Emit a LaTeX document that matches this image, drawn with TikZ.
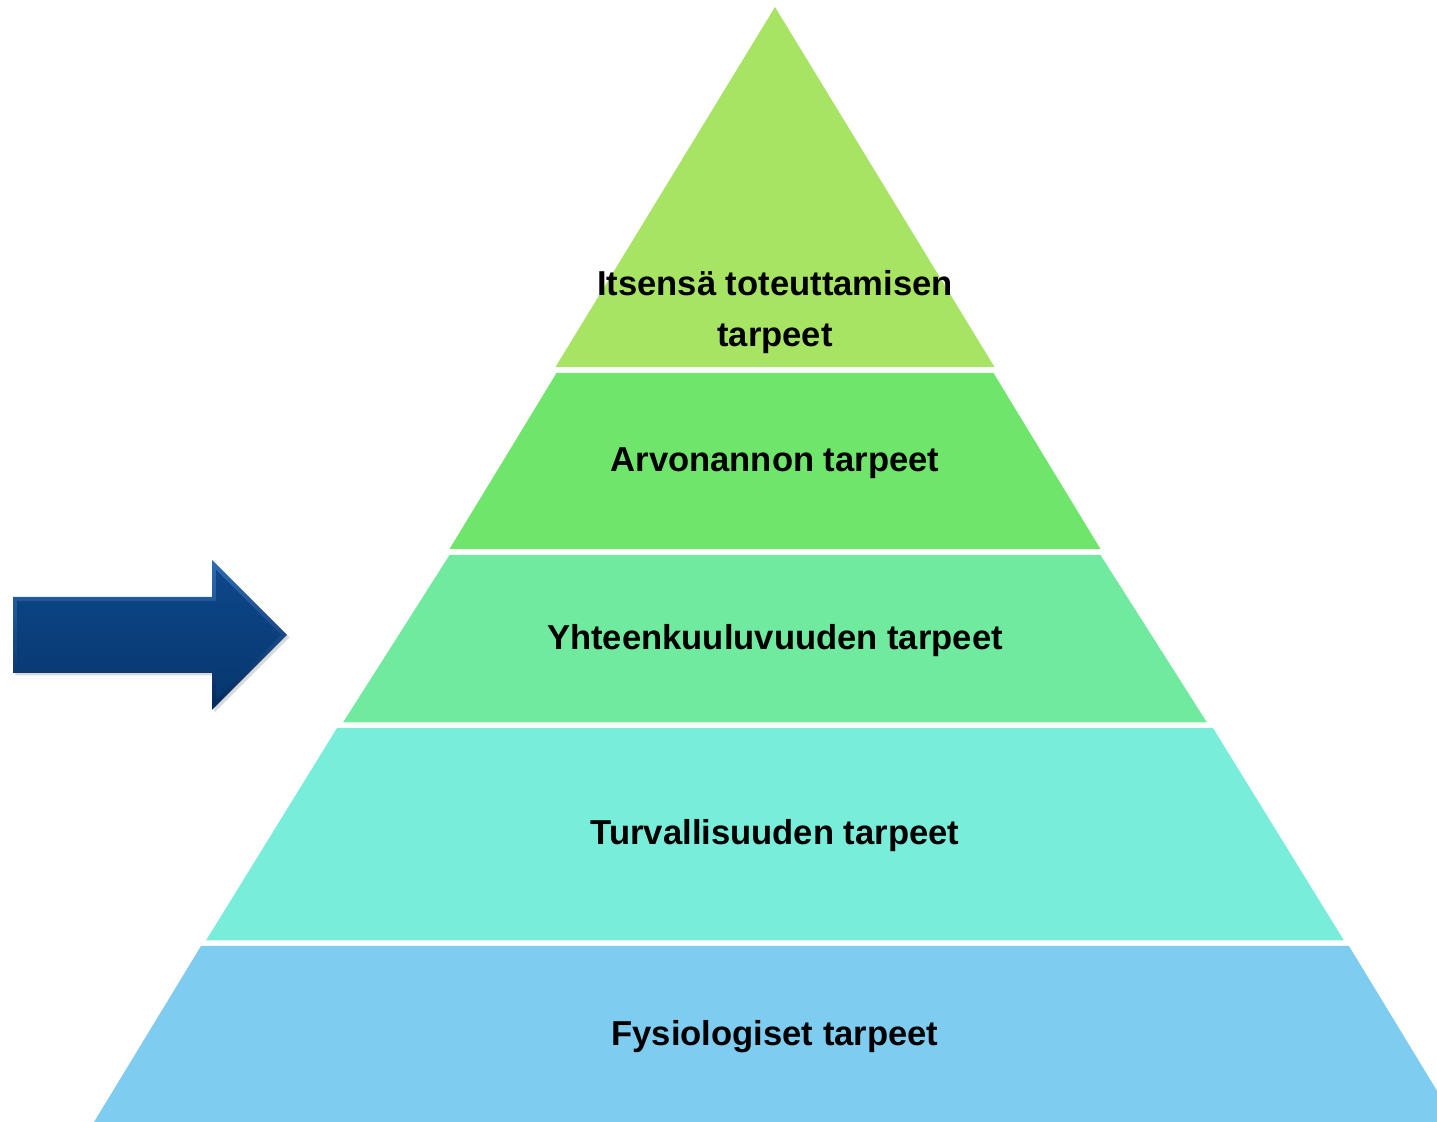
\documentclass[tikz,border=0pt]{standalone}
\usepackage{fontspec}
\setmainfont{Liberation Sans}
\usetikzlibrary{shadows}
\definecolor{selfcol}{HTML}{A8E463}
\definecolor{esteemcol}{HTML}{6FE66B}
\definecolor{belongcol}{HTML}{70EA9E}
\definecolor{safecol}{HTML}{78EEDA}
\definecolor{physcol}{HTML}{7ECDF1}
\definecolor{bevellight}{HTML}{2F6CB2}
\definecolor{beveldark}{HTML}{03285A}
\definecolor{arrowtop}{HTML}{0D4789}
\definecolor{arrowbot}{HTML}{07376F}
\tikzset{%
	lbl/.style={font=\bfseries\fontsize{17.3}{25.5}\selectfont, align=center, text=black, inner sep=0pt},
	bevel/.style={top color=bevellight, bottom color=beveldark,
		drop shadow={opacity=0.3, shadow xshift=1.2pt, shadow yshift=-1.2pt}},
	arrowface/.style={top color=arrowtop, bottom color=arrowbot}
}

\begin{document}
\begin{tikzpicture}[x=0.5pt,y=-0.5pt]
		\useasboundingbox (0,0) rectangle (1437,1122);
		
		% pyramid layers
		\fill[selfcol]   (775,7) -- (994.5,367) -- (555.5,367) -- cycle;
		\fill[esteemcol] (556.5,373) -- (993.5,373) -- (1100.5,549) -- (449.5,549) -- cycle;
		\fill[belongcol] (449.5,555) -- (1100.5,555) -- (1207,722.5) -- (343,722.5) -- cycle;
		\fill[safecol]   (337,728) -- (1213,728) -- (1344,940.5) -- (206,940.5) -- cycle;
		\fill[physcol]   (201,946) -- (1349,946) -- (1456,1122) -- (94,1122) -- cycle;
		
		\node[lbl] (self)   at (775,312)             {Itsensä toteuttamisen\\tarpeet};
		\node[lbl, anchor=base] (esteem) at (775,472)  {Arvonannon tarpeet};
		\node[lbl, anchor=base] (belong) at (775,650)  {Yhteenkuuluvuuden tarpeet};
		\node[lbl, anchor=base] (safe)   at (775,845)  {Turvallisuuden tarpeet};
		\node[lbl, anchor=base] (phys)   at (775,1046) {Fysiologiset tarpeet};
		
		% arrow
		\path[bevel] (13,597) -- (212,597) -- (212,560) -- (287,635) -- (212,710) -- (212,673) -- (13,673) -- cycle;
		\path[arrowface] (17,601) -- (216,601) -- (216,570) -- (281,635) -- (216,700) -- (216,669) -- (17,669) -- cycle;
	\end{tikzpicture}
\end{document}
